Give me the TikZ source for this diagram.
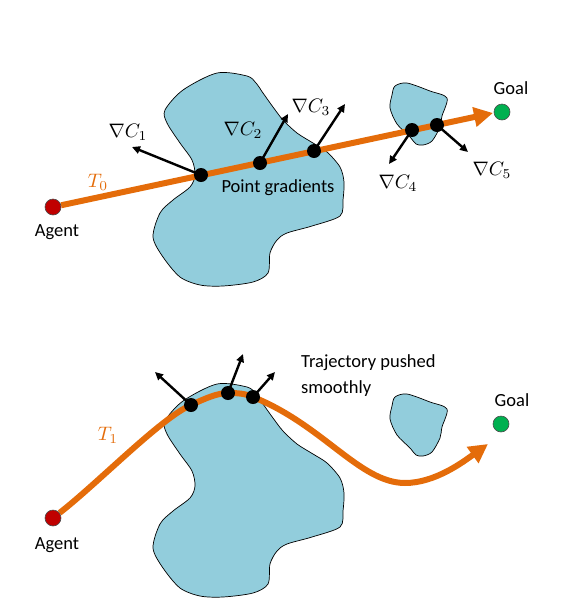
\documentclass[tikz,border=0pt]{standalone}
\usepackage{fontspec}
\setmainfont{Carlito}
\usepackage{amsmath}
\usetikzlibrary{arrows.meta,backgrounds}

\definecolor{oviracol}{HTML}{92CDDC}
\definecolor{trajcol}{HTML}{E46C0A}
\definecolor{agentcol}{HTML}{C00000}
\definecolor{goalcol}{HTML}{00B050}

\tikzset{
  ovira/.style={fill=oviracol,draw=black,line width=0.7pt},
  traj/.style={trajcol,line width=6pt,-{Triangle[length=19pt,width=19pt]}},
  grad/.style={line width=2.4pt,-{Triangle[length=8pt,width=7.5pt]}},
  pt/.style={circle,fill=black,inner sep=0pt,minimum size=14pt},
  agent/.style={circle,fill=agentcol,draw=black!70,line width=0.6pt,inner sep=0pt,minimum size=16pt},
  goal/.style={circle,fill=goalcol,draw=black!70,line width=0.6pt,inner sep=0pt,minimum size=16pt},
  tekst/.style={font=\fontsize{18.5}{26}\selectfont,inner sep=0pt},
  oznaka/.style={scale=1.95,inner sep=0pt},
  velika/.pic={\draw[ovira] plot[smooth cycle] coordinates {(217,73) (247,76) (256,83) (263,93) (273,107) (283,120) (297,133) (313,143) (327,152) (340,167) (344,182) (343,200) (340,216) (312,226) (287,233) (277,240) (270,253) (268,273) (253,282) (223,286) (200,285) (180,277) (163,257) (153,237) (160,213) (173,200) (190,187) (195,175) (192,160) (180,143) (167,123) (165,110) (183,90)};},
  mala/.pic={\draw[ovira] plot[smooth cycle] coordinates {(395,86) (407,83) (430,91) (447,98) (442,116) (440,127) (432,141) (423,145) (416,144) (410,137) (397,124) (390,108) (392,95)};}
}

\begin{document}
\begin{tikzpicture}[x=1pt,y=-1pt]
\useasboundingbox (0,0) rectangle (576,606);

%zacetna trajektorija
\node[agent] (agentA) at (53,207) {};
\node[goal] (goalA) at (502,112) {};
\coordinate (endA) at (493,113);
\node[pt] (d1) at (201,175) {};
\node[pt] (d2) at (260,163) {};
\node[pt] (d3) at (314,151) {};
\node[pt] (d4) at (412,130) {};
\node[pt] (d5) at (437,125) {};
\coordinate (g1) at (132,147);
\coordinate (g2) at (288,114);
\coordinate (g3) at (345,104);
\coordinate (g4) at (389,164);
\coordinate (g5) at (468,152);

\node[tekst] (agentAtxt) at (57,232) {Agent};
\node[tekst] (goalAtxt) at (511,88) {Goal};
\node[tekst] (gradtxt) at (278,188) {Point gradients};
\node[oznaka,trajcol] (T0) at (98,182) {$T_0$};
\node[oznaka] (c1) at (128,132) {$\nabla C_1$};
\node[oznaka] (c2) at (243,130) {$\nabla C_2$};
\node[oznaka] (c3) at (311,107) {$\nabla C_3$};
\node[oznaka] (c4) at (398,183) {$\nabla C_4$};
\node[oznaka] (c5) at (492,170) {$\nabla C_5$};

%potisnjena trajektorija
\node[agent] (agentB) at (53,518) {};
\node[goal] (goalB) at (501,424) {};
\coordinate (endB) at (488,444);
\node[pt] (e1) at (191,405) {};
\node[pt] (e2) at (228,393) {};
\node[pt] (e3) at (253,397) {};
\coordinate (h1) at (155,372);
\coordinate (h2) at (243,354);
\coordinate (h3) at (275,372);

\node[tekst] (agentBtxt) at (57,545) {Agent};
\node[tekst] (goalBtxt) at (512,400) {Goal};
\node[tekst,anchor=west,align=left] (pushtxt) at (301,376) {Trajectory pushed\\smoothly};
\node[oznaka,trajcol] (T1) at (108,435) {$T_1$};

\begin{scope}[on background layer]
%ovire
\pic at (0,0) {velika};
\pic at (0,0) {mala};
\pic at (0,311) {velika};
\pic at (0,311) {mala};

%crte in gradienti
\draw[traj] (agentA) -- (endA);
\foreach \i in {1,...,5} \draw[grad] (d\i.center) -- (g\i);

\draw[traj] (agentB) .. controls (98,483) and (161,418) .. (e1.center) .. controls (206,398) and (218,393) .. (e2.center) .. controls (238,393) and (245,393.5) .. (e3.center) .. controls (323,425) and (360,483) .. (405,483) .. controls (435,483) and (463,462) .. (endB);
\foreach \i in {1,2,3} \draw[grad] (e\i.center) -- (h\i);
\end{scope}

\end{tikzpicture}
\end{document}
